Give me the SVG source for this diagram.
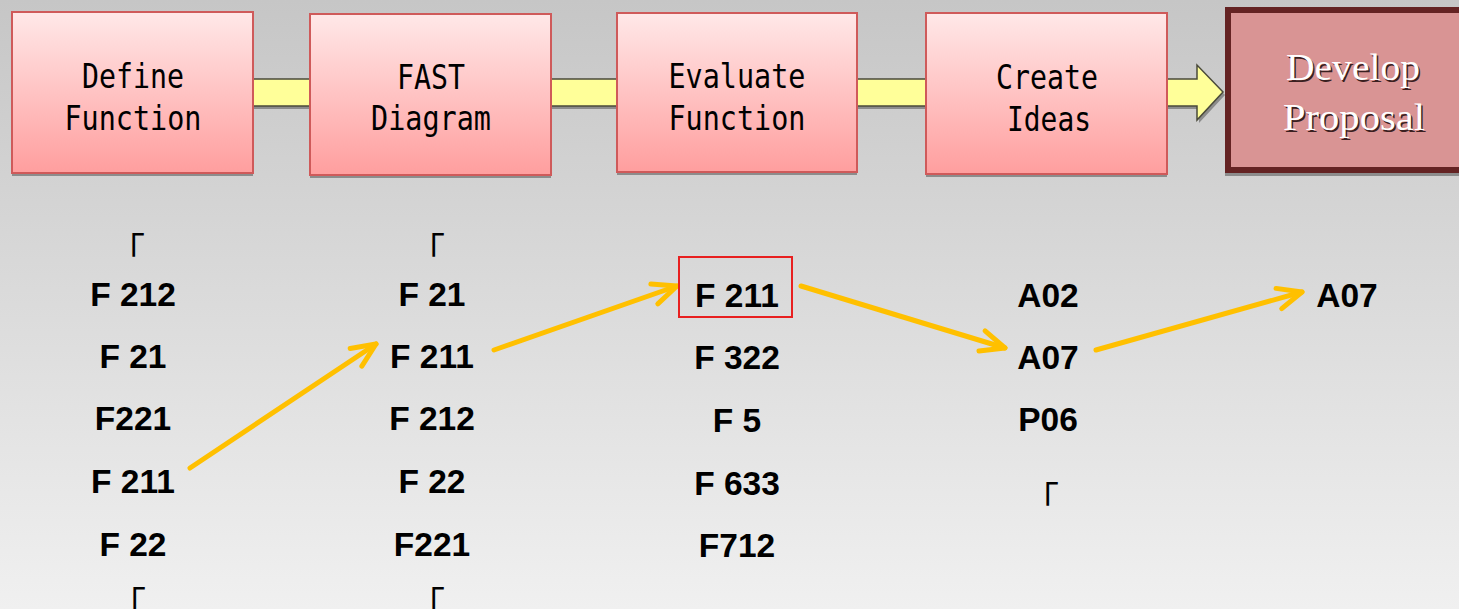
<svg xmlns="http://www.w3.org/2000/svg" width="1459" height="609" viewBox="0 0 1459 609">
<defs>
<linearGradient id="bg" x1="0" y1="0" x2="0" y2="1">
<stop offset="0" stop-color="#c6c6c6"/>
<stop offset="1" stop-color="#f0f0f0"/>
</linearGradient>
<linearGradient id="pink" x1="0" y1="0" x2="0" y2="1">
<stop offset="0" stop-color="#ffe8e8"/>
<stop offset="1" stop-color="#ff9e9e"/>
</linearGradient>
<marker id="chev" markerUnits="userSpaceOnUse" markerWidth="40" markerHeight="40" viewBox="-30 -20 40 40" refX="0" refY="0" orient="auto">
<path d="M-24,-10.5 L0,0 L-24,10.5" fill="none" stroke="#ffc000" stroke-width="5" stroke-linecap="round" stroke-linejoin="round"/>
</marker>
<style>
.shadow{fill:#8c8c8c}
.box{fill:url(#pink);stroke:#cf5a5a;stroke-width:2}
.bar{fill:#ffff99;stroke:#4a4a3a;stroke-width:1.5}
.bt{font-family:"DejaVu Sans Mono","Liberation Mono",monospace;font-size:34px;fill:#000;text-anchor:middle}
.dp{font-family:"Liberation Serif",serif;font-size:38px;text-anchor:middle}
.lbl{font-family:"Liberation Sans",Arial,sans-serif;font-weight:bold;font-size:33.5px;fill:#000;text-anchor:middle}
.cor{font-family:"Noto Sans CJK KR","Noto Sans CJK JP",sans-serif;font-size:36px;fill:#000}
.arr{fill:none;stroke:#ffc000;stroke-width:5;stroke-linecap:round;marker-end:url(#chev)}
</style>
</defs>
<rect x="0" y="0" width="1459" height="609" fill="url(#bg)"/>

<g id="connectors">
<rect class="shadow" x="253" y="82" width="57" height="27"/>
<rect class="bar" x="253" y="79" width="57" height="27"/>
<rect class="shadow" x="551" y="82" width="66" height="27"/>
<rect class="bar" x="551" y="79" width="66" height="27"/>
<rect class="shadow" x="857" y="82" width="69" height="27"/>
<rect class="bar" x="857" y="79" width="69" height="27"/>
<polygon class="shadow" points="1167,82 1199,82 1199,68 1225,95 1199,123 1199,109 1167,109"/>
<polygon class="bar" points="1167,79 1197,79 1197,65 1223,92 1197,120 1197,106 1167,106"/>
<line class="arr" x1="190" y1="468" x2="376" y2="344"/>
<line class="arr" x1="494" y1="350" x2="677" y2="286"/>
<line class="arr" x1="801" y1="286" x2="1005" y2="348"/>
<line class="arr" x1="1096" y1="350" x2="1302" y2="292"/>
</g>

<g id="n-define">
<rect class="shadow" x="12" y="15" width="241" height="161"/>
<rect class="box" x="12" y="12" width="241" height="161"/>
<text class="bt" x="133" y="88" textLength="102" lengthAdjust="spacingAndGlyphs">Define</text>
<text class="bt" x="133" y="130" textLength="137" lengthAdjust="spacingAndGlyphs">Function</text>
</g>
<g id="n-fast">
<rect class="shadow" x="310" y="17" width="241" height="161"/>
<rect class="box" x="310" y="14" width="241" height="161"/>
<text class="bt" x="431" y="89" textLength="68" lengthAdjust="spacingAndGlyphs">FAST</text>
<text class="bt" x="431" y="130" textLength="120" lengthAdjust="spacingAndGlyphs">Diagram</text>
</g>
<g id="n-evaluate">
<rect class="shadow" x="617" y="16" width="240" height="159"/>
<rect class="box" x="617" y="13" width="240" height="159"/>
<text class="bt" x="737" y="88" textLength="137" lengthAdjust="spacingAndGlyphs">Evaluate</text>
<text class="bt" x="737" y="130" textLength="137" lengthAdjust="spacingAndGlyphs">Function</text>
</g>
<g id="n-create">
<rect class="shadow" x="926" y="16" width="241" height="161"/>
<rect class="box" x="926" y="13" width="241" height="161"/>
<text class="bt" x="1047" y="89" textLength="102" lengthAdjust="spacingAndGlyphs">Create</text>
<text class="bt" x="1049" y="131" textLength="84" lengthAdjust="spacingAndGlyphs">Ideas</text>
</g>
<g id="n-develop">
<rect class="shadow" x="1225" y="10" width="240" height="166"/>
<rect x="1228" y="10" width="240" height="160" fill="#d99494" stroke="#642323" stroke-width="6"/>
<text class="dp" x="1354.5" y="81.5" fill="#3a2020" textLength="134" lengthAdjust="spacingAndGlyphs">Develop</text>
<text class="dp" x="1353" y="80" fill="#ffffff" textLength="134" lengthAdjust="spacingAndGlyphs">Develop</text>
<text class="dp" x="1355.5" y="131.5" fill="#3a2020" textLength="142" lengthAdjust="spacingAndGlyphs">Proposal</text>
<text class="dp" x="1354" y="130" fill="#ffffff" textLength="142" lengthAdjust="spacingAndGlyphs">Proposal</text>
</g>

<g id="col1">
<text class="cor" x="109" y="264">「</text>
<text class="lbl" x="133" y="306">F 212</text>
<text class="lbl" x="133" y="368">F 21</text>
<text class="lbl" x="133" y="430">F221</text>
<text class="lbl" x="133" y="493">F 211</text>
<text class="lbl" x="133" y="556">F 22</text>
<text class="cor" x="110" y="618">「</text>
</g>
<g id="col2">
<text class="cor" x="409" y="264">「</text>
<text class="lbl" x="432" y="306">F 21</text>
<text class="lbl" x="432" y="368">F 211</text>
<text class="lbl" x="432" y="430">F 212</text>
<text class="lbl" x="432" y="493">F 22</text>
<text class="lbl" x="432" y="556">F221</text>
<text class="cor" x="409" y="618">「</text>
</g>
<g id="col3">
<rect x="679" y="257" width="113" height="60" fill="none" stroke="#e82020" stroke-width="2"/>
<text class="lbl" x="737" y="307">F 211</text>
<text class="lbl" x="737" y="369">F 322</text>
<text class="lbl" x="737" y="432">F 5</text>
<text class="lbl" x="737" y="495">F 633</text>
<text class="lbl" x="737" y="557">F712</text>
</g>
<g id="col4">
<text class="cor" x="1023" y="513">「</text>
<text class="lbl" x="1048" y="307">A02</text>
<text class="lbl" x="1048" y="369">A07</text>
<text class="lbl" x="1048" y="431">P06</text>
</g>
<g id="col5">
<text class="lbl" x="1347" y="307">A07</text>
</g>
</svg>
